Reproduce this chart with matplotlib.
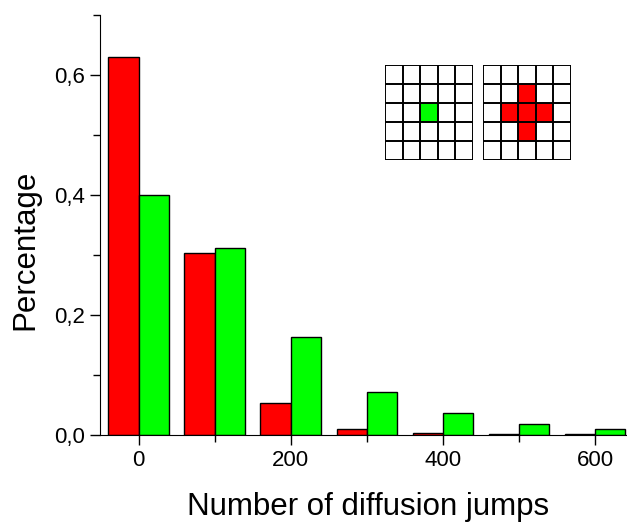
import numpy as np
import matplotlib.pyplot as plt
from matplotlib.colors import ListedColormap
from matplotlib.ticker import FuncFormatter, MultipleLocator

plt.rcParams['font.family'] = ['Liberation Sans', 'DejaVu Sans']

# data
jumps = [0, 100, 200, 300, 400, 500, 600]
red_vals = [0.630, 0.303, 0.053, 0.010, 0.003, 0.001, 0.001]
green_vals = [0.400, 0.312, 0.163, 0.072, 0.037, 0.018, 0.0095]

# inset patterns (1 = filled)
green_grid = [[0, 0, 0, 0, 0],
              [0, 0, 0, 0, 0],
              [0, 0, 1, 0, 0],
              [0, 0, 0, 0, 0],
              [0, 0, 0, 0, 0]]
red_grid = [[0, 0, 0, 0, 0],
            [0, 0, 1, 0, 0],
            [0, 1, 1, 1, 0],
            [0, 0, 1, 0, 0],
            [0, 0, 0, 0, 0]]

W, H = 627, 524
fig = plt.figure(figsize=(W / 100, H / 100), dpi=100)
ax = fig.add_axes([100 / W, (H - 435) / H, (W - 100) / W, 420 / H])

x = np.array(jumps)
bw = 40
ax.bar(x - bw / 2, red_vals, width=bw, color='#ff0000', edgecolor='black', linewidth=1)
ax.bar(x + bw / 2, green_vals, width=bw, color='#00ff00', edgecolor='black', linewidth=1)

ax.set_xlim(-51, 642)
ax.set_ylim(0, 0.7)
ax.spines['top'].set_visible(False)
ax.spines['right'].set_visible(False)
ax.xaxis.set_major_locator(MultipleLocator(200))
ax.xaxis.set_minor_locator(MultipleLocator(100))
ax.yaxis.set_major_locator(MultipleLocator(0.2))
ax.yaxis.set_minor_locator(MultipleLocator(0.1))
ax.yaxis.set_major_formatter(FuncFormatter(lambda v, p: f'{v:.1f}'.replace('.', ',')))
ax.tick_params(which='major', length=7, width=1, labelsize=16, pad=4)
ax.tick_params(which='minor', length=5, width=1)
ax.set_xlabel('Number of diffusion jumps', fontsize=22.5, labelpad=15, x=0.508)
ax.set_ylabel('Percentage', fontsize=22.5, labelpad=10, y=0.442)


def draw_grid(left, grid, color):
    g = fig.add_axes([left / W, (H - 160) / H, 88 / W, 95 / H])
    g.imshow(np.array(grid), cmap=ListedColormap(['white', color]),
             vmin=0, vmax=1, aspect='auto', extent=(0, 5, 5, 0))
    for k in range(6):
        g.axhline(k, color='black', lw=1.4)
        g.axvline(k, color='black', lw=1.4)
    g.set_xlim(0, 5)
    g.set_ylim(5, 0)
    g.axis('off')


draw_grid(385, green_grid, '#00ff00')
draw_grid(483, red_grid, '#ff0000')

fig.savefig('out.png', dpi=100)
